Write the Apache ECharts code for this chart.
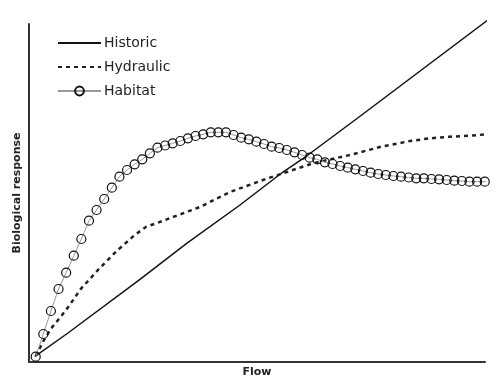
<!DOCTYPE html>
<html>
<head>
<meta charset="utf-8">
<script src="https://cdn.jsdelivr.net/npm/echarts@6/dist/echarts.min.js"></script>
<style>html,body{margin:0;padding:0;background:#fff}#c{width:497px;height:378px}</style>
</head>
<body>
<div id="c"></div>
<script>
var seriesNames = ['Historic', 'Hydraulic', 'Habitat'];
var axisTitles = { x: 'Flow', y: 'Biological response' };

var historicFlow = [1.25, 8.55, 24.34, 34.58, 46.27, 55.70, 61.18, 72.96, 102.57];
var historicResponse = [1.57, 8.58, 24.47, 35.12, 46.45, 56.21, 61.24, 73.08, 103.17];

var hydraulicFlow = [1.47, 3.29, 4.89, 6.86, 8.55, 11.47, 15.13, 18.93, 23.18, 25.72, 28.07, 31.58, 37.5, 44.08, 51.32, 55.7, 62.28, 70.39, 76.97, 83.55, 87.94, 92.32, 96.71, 100.44];
var hydraulicResponse = [1.78, 6.51, 9.97, 13.22, 16.18, 21.8, 27.22, 32.46, 37.57, 40.03, 41.12, 42.9, 45.86, 50.3, 53.85, 55.83, 58.79, 61.24, 63.61, 65.38, 66.18, 66.66, 66.95, 67.37];

var habitatFlow = [1.47, 3.14, 4.81, 6.48, 8.15, 9.82, 11.48, 13.15, 14.82, 16.49, 18.16, 19.83, 21.5, 23.17, 24.84, 26.51, 28.17, 29.84, 31.51, 33.18, 34.85, 36.52, 38.19, 39.86, 41.53, 43.2, 44.86, 46.53, 48.2, 49.87, 51.54, 53.21, 54.88, 56.55, 58.22, 59.89, 61.55, 63.22, 64.89, 66.56, 68.23, 69.9, 71.57, 73.24, 74.91, 76.58, 78.24, 79.91, 81.58, 83.25, 84.92, 86.59, 88.26, 89.93, 91.6, 93.27, 94.93, 96.6, 98.27, 99.94, 101.1];
var habitatResponse = [1.57, 8.28, 15.09, 21.6, 26.42, 31.45, 36.39, 41.8, 44.97, 48.22, 51.57, 54.82, 56.8, 58.49, 59.97, 61.75, 63.4, 64.05, 64.7, 65.38, 66.18, 66.86, 67.37, 67.96, 67.96, 67.96, 67.16, 66.36, 65.89, 65.18, 64.5, 63.7, 63.31, 62.72, 62.04, 61.24, 60.44, 59.97, 59.08, 58.58, 57.99, 57.49, 57.01, 56.51, 56.01, 55.62, 55.33, 55.03, 54.82, 54.59, 54.35, 54.35, 54.14, 54.05, 53.85, 53.64, 53.55, 53.34, 53.34, 53.34, 53.34];

function zip(a, b) { return a.map(function (v, i) { return [v, b[i]]; }); }

var habitatData = zip(habitatFlow, habitatResponse).map(function (p, i, arr) {
  return i === arr.length - 1 ? { value: p, symbol: 'none' } : { value: p };
});

var hidden = { color: 'rgba(0,0,0,0)', borderColor: 'rgba(0,0,0,0)', borderWidth: 0, opacity: 0 };

var chart = echarts.init(document.getElementById('c'), null, { renderer: 'canvas' });
chart.setOption({
  animation: false,
  backgroundColor: '#fff',
  grid: { left: 29, right: 12, top: 24, bottom: 16, containLabel: false, outerBoundsMode: 'none' },
  legend: {
    orient: 'vertical',
    left: 57,
    top: 36,
    padding: 0,
    itemWidth: 43,
    itemHeight: 11,
    itemGap: 10,
    textStyle: { fontFamily: 'DejaVu Sans', fontSize: 14, color: '#222', padding: [0, 0, 0, -2] },
    data: [
      { name: seriesNames[0], itemStyle: hidden },
      { name: seriesNames[1], itemStyle: hidden },
      { name: seriesNames[2] }
    ]
  },
  xAxis: {
    type: 'value', min: 0, max: 100,
    name: axisTitles.x, nameLocation: 'middle', nameGap: 5,
    nameTextStyle: { fontFamily: 'DejaVu Sans', fontWeight: 'bold', fontSize: 11, color: '#222', verticalAlign: 'top' },
    axisLine: { show: true, lineStyle: { color: '#333', width: 2 } },
    axisTick: { show: false }, axisLabel: { show: false }, splitLine: { show: false }
  },
  yAxis: {
    type: 'value', min: 0, max: 100,
    name: axisTitles.y, nameLocation: 'middle', nameGap: 6,
    nameTextStyle: { fontFamily: 'DejaVu Sans', fontWeight: 'bold', fontSize: 11, color: '#222' },
    axisLine: { show: true, lineStyle: { color: '#333', width: 2 } },
    axisTick: { show: false }, axisLabel: { show: false }, splitLine: { show: false }
  },
  series: [
    {
      name: seriesNames[0], type: 'line', clip: false, showSymbol: false, symbol: 'none',
      lineStyle: { color: '#111', width: 1.5 },
      itemStyle: { color: '#111' },
      data: zip(historicFlow, historicResponse)
    },
    {
      name: seriesNames[1], type: 'line', clip: false, showSymbol: false, symbol: 'none',
      lineStyle: { color: '#222', width: 2.5, type: [4, 4] },
      itemStyle: { color: '#222' },
      data: zip(hydraulicFlow, hydraulicResponse)
    },
    {
      name: seriesNames[2], type: 'line', clip: false, symbol: 'circle', symbolSize: 9, showAllSymbol: true,
      lineStyle: { color: '#999', width: 1 },
      itemStyle: { color: 'rgba(255,255,255,0)', borderColor: '#111', borderWidth: 1.2 },
      data: habitatData
    }
  ]
});
</script>
</body>
</html>
